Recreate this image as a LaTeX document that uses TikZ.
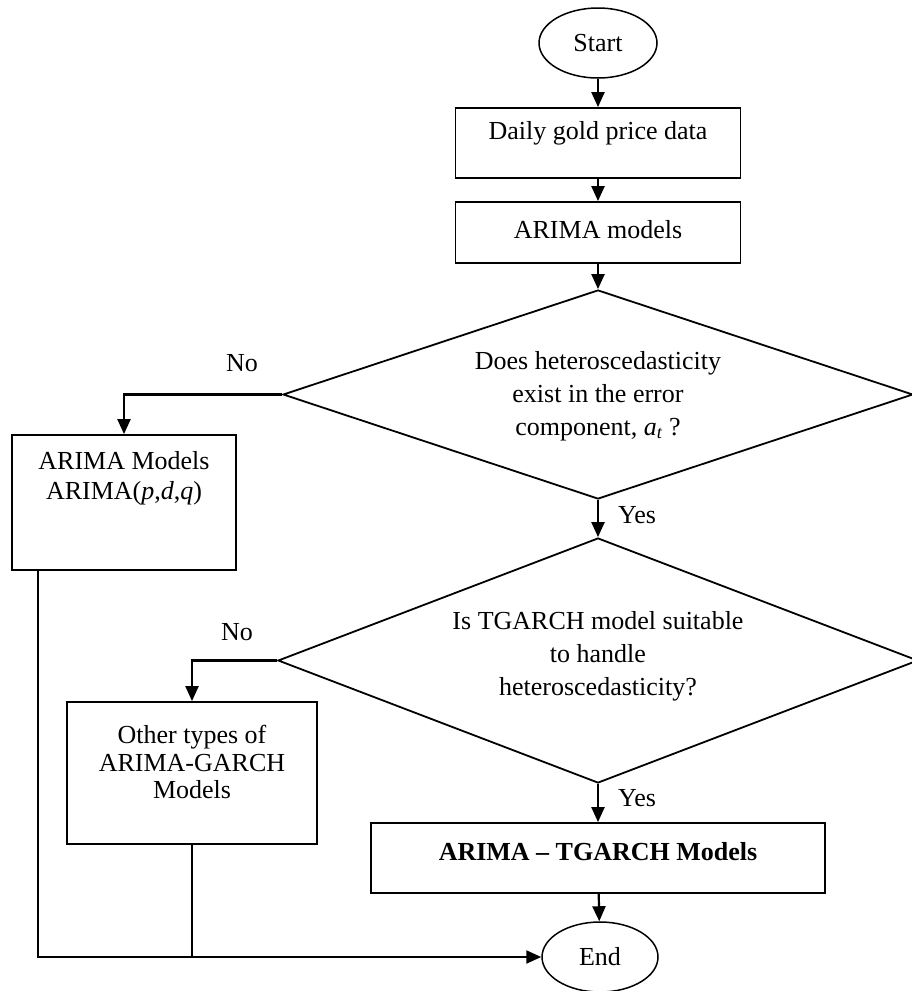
\documentclass[tikz,border=0pt]{standalone}
\usepackage{fontspec}
\setmainfont{Liberation Serif}
\usetikzlibrary{shapes.geometric,arrows.meta}
\begin{document}
\begin{tikzpicture}[x=1pt,y=-1pt,
  every node/.style={font=\fontsize{26}{33}\selectfont},
  boxst/.style={draw, line width=1.8pt, rectangle, inner sep=0pt},
  diast/.style={draw, line width=1.8pt, diamond, inner sep=0pt},
  ovalst/.style={draw, line width=1.5pt, ellipse, inner sep=0pt},
  txt/.style={inner sep=0pt, align=center},
  arr/.style={line width=2.2pt, -{Triangle[width=13pt,length=15pt]}},
  conn/.style={line width=2.2pt},
]
\useasboundingbox (0,0) rectangle (911,991);

% shapes
\node[ovalst, minimum width=118pt, minimum height=70pt] (start) at (598,43) {Start};
\node[boxst, minimum width=285pt, minimum height=70pt] (daily) at (598,143) {};
\node[txt] (dailyT) at (598,133) {Daily gold price data};
\node[boxst, minimum width=285pt, minimum height=61pt] (arimaM) at (598,232.5) {};
\node[txt] (arimaMT) at (598,230) {ARIMA models};
\node[diast, minimum width=630pt, minimum height=209pt] (d1) at (598,394.5) {};
\node[txt] (d1T) at (598,396)
  {Does heteroscedasticity\\exist in the error\\component, \textit{a}\textsubscript{\textit{t}} ?};
\node[boxst, minimum width=224pt, minimum height=135pt] (arimaL) at (124,502.5) {};
\node[txt, font=\fontsize{26}{30}\selectfont] (arimaLT) at (124,478)
  {ARIMA Models\\ARIMA(\textit{p},\textit{d},\textit{q})};
\node[diast, minimum width=640pt, minimum height=245pt] (d2) at (598,660.5) {};
\node[txt] (d2T) at (598,656)
  {Is TGARCH model suitable\\to handle\\heteroscedasticity?};
\node[boxst, minimum width=250pt, minimum height=142pt] (other) at (192,773) {};
\node[txt, font=\fontsize{26}{27.5}\selectfont] (otherT) at (192,762)
  {Other types of\\ARIMA-GARCH\\Models};
\node[boxst, minimum width=454pt, minimum height=70pt] (tg) at (598,858) {};
\node[txt] (tgT) at (598,852) {\textbf{ARIMA -- TGARCH Models}};
\node[ovalst, minimum width=116pt, minimum height=70pt] (end) at (600,957) {End};

% labels
\node[txt] (no1) at (242,363) {No};
\node[txt] (yes1) at (637,515) {Yes};
\node[txt] (no2) at (237,632) {No};
\node[txt] (yes2) at (637,798) {Yes};

% connectors
\draw[arr] (start) -- (daily);
\draw[arr] (daily) -- (arimaM);
\draw[arr] (arimaM) -- (d1);
\draw[arr] (d1.west) -| (arimaL.north);
\draw[arr] (d1.south) -- (d2.north);
\draw[arr] (d2.west) -| (other.north);
\draw[arr] (d2.south) -- (tg.north);
\draw[arr] (tg) -- (end);
\coordinate (lstart) at ([xshift=27pt]arimaL.south west);
\draw[arr] (lstart) |- (end.west);
\draw[conn] (other.south) -- (other.south |- end.west);
\end{tikzpicture}
\end{document}
